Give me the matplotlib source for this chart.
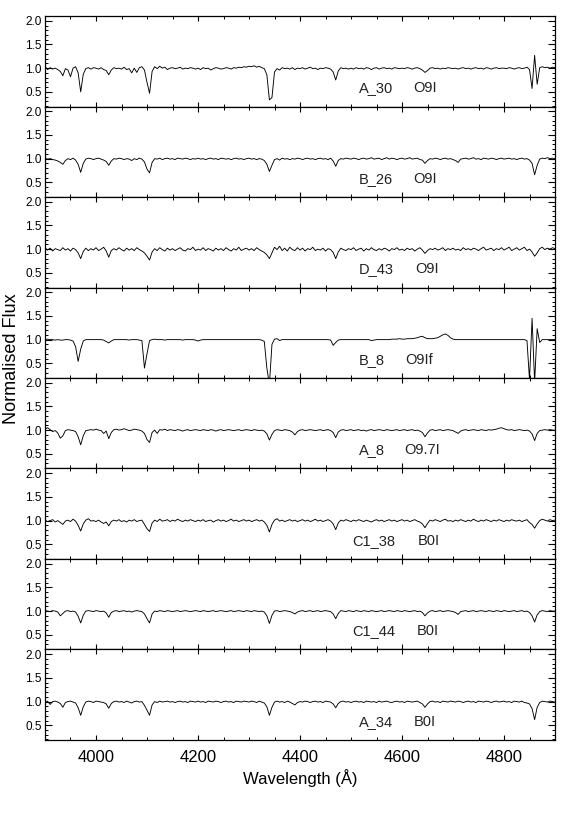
import numpy as np
import matplotlib
matplotlib.use("Agg")
import matplotlib.pyplot as plt
from matplotlib.ticker import MultipleLocator

plt.rcParams['font.family'] = ['Liberation Sans', 'DejaVu Sans']

# wavelength sampling (Angstrom), 5 A steps
wave = np.arange(3900, 4905, 5)

# normalised flux, in percent of continuum
a_30 = [104, 97, 101, 98, 100, 97, 93, 84, 99, 96, 82, 100, 103, 90, 50, 87, 99, 101, 98, 101,
        100, 98, 101, 97, 95, 86, 96, 101, 99, 100, 98, 102, 97, 99, 90, 100, 91, 101, 103, 96,
        70, 47, 93, 103, 99, 104, 100, 102, 97, 100, 101, 99, 100, 102, 98, 100, 99, 101, 100, 98,
        100, 97, 101, 99, 100, 96, 99, 101, 100, 98, 99, 101, 100, 98, 101, 100, 102, 101, 103, 102,
        104, 103, 105, 102, 104, 101, 99, 86, 33, 38, 92, 99, 96, 101, 99, 100, 98, 101, 97, 100,
        99, 101, 98, 100, 102, 99, 100, 97, 100, 99, 101, 100, 98, 92, 75, 94, 101, 99, 100, 98,
        100, 98, 101, 99, 100, 98, 101, 100, 97, 100, 101, 98, 100, 101, 99, 100, 98, 101, 100, 99,
        100, 99, 101, 100, 98, 100, 101, 99, 96, 91, 95, 100, 101, 99, 100, 98, 100, 99, 101, 100,
        99, 100, 98, 100, 101, 99, 100, 98, 100, 101, 99, 100, 98, 101, 100, 98, 100, 101, 99, 100,
        100, 99, 101, 100, 98, 100, 101, 99, 100, 102, 97, 57, 127, 66, 101, 103, 101, 102, 100, 102,
        101]

b_26 = [101, 99, 100, 98, 97, 95, 92, 88, 96, 100, 98, 101, 97, 88, 71, 90, 99, 101, 100, 98,
        100, 101, 99, 97, 94, 86, 95, 100, 99, 101, 100, 98, 100, 99, 96, 100, 98, 101, 99, 93,
        78, 70, 92, 100, 99, 101, 98, 100, 101, 99, 100, 98, 101, 100, 99, 101, 100, 98, 100, 99,
        101, 99, 100, 98, 100, 101, 99, 100, 98, 101, 100, 99, 100, 98, 100, 101, 99, 100, 98, 100,
        101, 99, 100, 98, 100, 99, 96, 88, 73, 86, 98, 100, 97, 101, 99, 100, 98, 100, 99, 101,
        100, 98, 100, 101, 99, 100, 98, 100, 101, 99, 100, 98, 101, 95, 84, 96, 100, 99, 101, 100,
        99, 101, 100, 98, 100, 101, 99, 100, 102, 99, 100, 101, 98, 100, 102, 99, 101, 100, 98, 100,
        101, 99, 100, 102, 99, 100, 101, 98, 97, 90, 96, 100, 99, 101, 100, 98, 100, 101, 99, 100,
        98, 96, 92, 99, 100, 101, 99, 100, 102, 99, 100, 98, 101, 100, 99, 101, 100, 98, 100, 101,
        99, 100, 101, 99, 100, 98, 100, 101, 99, 100, 97, 90, 66, 86, 99, 101, 100, 102, 100, 101,
        100]

d_43 = [103, 98, 102, 96, 101, 99, 97, 103, 98, 101, 96, 102, 99, 92, 80, 95, 102, 97, 101, 98,
        103, 97, 100, 104, 96, 83, 97, 101, 98, 103, 99, 96, 102, 98, 101, 97, 103, 99, 96, 92,
        85, 77, 94, 101, 97, 103, 99, 96, 102, 98, 101, 97, 100, 103, 98, 96, 101, 99, 104, 97,
        100, 98, 103, 97, 101, 99, 96, 102, 98, 101, 97, 103, 99, 96, 101, 98, 104, 97, 100, 102,
        98, 101, 97, 103, 99, 96, 93, 88, 80, 92, 104, 99, 106, 97, 102, 96, 104, 99, 97, 103,
        98, 102, 96, 101, 99, 104, 97, 100, 98, 102, 96, 101, 99, 93, 80, 94, 102, 99, 97, 101,
        99, 103, 97, 100, 102, 96, 101, 98, 103, 99, 97, 101, 98, 102, 100, 96, 101, 99, 103, 98,
        100, 97, 102, 99, 101, 96, 100, 103, 98, 91, 97, 101, 99, 102, 98, 100, 103, 97, 101, 99,
        102, 98, 100, 97, 103, 99, 101, 98, 102, 100, 97, 101, 104, 98, 100, 102, 97, 101, 99, 103,
        98, 101, 104, 97, 100, 103, 98, 101, 104, 97, 100, 94, 85, 92, 101, 104, 99, 102, 100, 103,
        101]

b_8 = [100, 101, 100, 100, 99, 100, 99, 99, 100, 100, 99, 97, 85, 54, 80, 97, 100, 100, 100, 100,
       100, 100, 100, 99, 96, 93, 97, 100, 100, 100, 100, 100, 100, 99, 100, 100, 100, 99, 98, 40,
       70, 98, 100, 101, 100, 100, 100, 99, 100, 100, 100, 100, 100, 100, 99, 100, 100, 100, 100, 99,
       97, 99, 100, 100, 100, 100, 100, 100, 100, 100, 100, 100, 100, 100, 100, 100, 100, 100, 100, 100,
       100, 100, 100, 100, 100, 99, 96, 40, 5, 90, 101, 102, 98, 100, 100, 100, 100, 100, 100, 100,
       100, 100, 100, 100, 100, 100, 100, 100, 100, 100, 100, 100, 99, 88, 94, 99, 100, 100, 100, 100,
       100, 100, 100, 100, 100, 100, 100, 100, 98, 99, 100, 100, 100, 100, 100, 100, 101, 101, 101, 102,
       101, 101, 102, 102, 102, 103, 104, 106, 107, 104, 102, 102, 102, 103, 104, 107, 110, 112, 109, 104,
       101, 100, 100, 100, 100, 100, 100, 100, 100, 100, 100, 100, 100, 100, 100, 100, 100, 100, 100, 100,
       100, 100, 100, 100, 100, 100, 100, 100, 100, 98, 15, 145, 10, 123, 94, 100, 100, 100, 100, 100,
       100]

a_8 = [102, 105, 101, 97, 99, 94, 83, 88, 99, 101, 100, 99, 97, 86, 69, 88, 99, 100, 101, 100,
       102, 100, 99, 93, 98, 82, 95, 101, 102, 100, 101, 103, 101, 99, 100, 102, 101, 100, 98, 93,
       80, 74, 95, 100, 93, 101, 100, 102, 99, 101, 100, 99, 101, 100, 98, 100, 101, 99, 100, 101,
       100, 99, 101, 100, 99, 101, 100, 98, 100, 101, 99, 100, 101, 100, 99, 100, 101, 99, 100, 101,
       100, 99, 101, 100, 99, 100, 98, 92, 79, 91, 99, 101, 100, 99, 101, 100, 99, 96, 90, 97,
       100, 101, 99, 100, 101, 100, 99, 100, 101, 99, 100, 101, 99, 95, 84, 96, 100, 101, 99, 100,
       101, 99, 100, 101, 99, 100, 98, 100, 101, 99, 100, 101, 100, 99, 101, 100, 99, 100, 101, 99,
       100, 101, 99, 100, 101, 99, 100, 98, 95, 86, 94, 100, 101, 99, 100, 101, 99, 100, 101, 100,
       99, 96, 93, 98, 100, 101, 99, 100, 101, 100, 99, 101, 100, 99, 101, 100, 101, 102, 104, 105,
       103, 101, 100, 101, 99, 100, 101, 100, 99, 100, 98, 92, 78, 93, 99, 100, 101, 100, 101, 100,
       100]

c1_38 = [101, 98, 100, 102, 97, 100, 96, 92, 99, 101, 98, 103, 99, 90, 78, 93, 101, 104, 99, 100,
         98, 101, 97, 94, 97, 89, 98, 101, 99, 102, 98, 100, 97, 101, 99, 102, 98, 100, 101, 92,
         83, 77, 95, 101, 98, 103, 99, 100, 102, 98, 101, 99, 103, 100, 98, 101, 99, 102, 100, 98,
         101, 99, 102, 98, 100, 101, 97, 100, 102, 99, 101, 98, 100, 103, 99, 101, 98, 100, 102, 99,
         101, 98, 100, 102, 99, 101, 97, 90, 76, 92, 101, 104, 99, 101, 98, 100, 102, 99, 101, 98,
         100, 102, 99, 101, 98, 100, 103, 99, 101, 98, 100, 102, 99, 93, 81, 95, 101, 99, 102, 100,
         98, 101, 99, 102, 100, 98, 101, 99, 97, 100, 102, 99, 101, 98, 100, 102, 99, 101, 98, 100,
         102, 99, 101, 98, 100, 102, 99, 97, 93, 85, 94, 101, 99, 102, 100, 98, 101, 103, 99, 100,
         98, 101, 99, 102, 100, 98, 101, 99, 103, 100, 98, 101, 99, 102, 100, 98, 101, 99, 102, 100,
         98, 101, 99, 102, 100, 99, 101, 98, 100, 102, 96, 92, 84, 93, 100, 103, 101, 99, 102, 100,
         101]

c1_44 = [101, 100, 99, 101, 100, 98, 90, 95, 100, 101, 99, 100, 98, 89, 75, 91, 100, 101, 100, 99,
         101, 100, 99, 100, 96, 87, 97, 100, 101, 99, 100, 101, 99, 100, 98, 100, 101, 100, 99, 94,
         84, 75, 94, 100, 99, 101, 100, 99, 101, 100, 99, 100, 101, 99, 100, 101, 100, 99, 100, 101,
         100, 99, 101, 100, 99, 100, 101, 99, 100, 101, 100, 99, 100, 101, 99, 100, 101, 100, 99, 101,
         100, 99, 101, 100, 99, 100, 98, 90, 74, 91, 100, 101, 99, 100, 101, 100, 99, 97, 94, 98,
         100, 101, 99, 100, 101, 99, 100, 101, 99, 100, 101, 100, 99, 94, 84, 95, 101, 100, 99, 101,
         100, 99, 101, 100, 99, 101, 100, 99, 101, 100, 99, 100, 101, 99, 100, 101, 100, 99, 101, 100,
         99, 101, 100, 99, 100, 101, 99, 100, 97, 90, 96, 100, 101, 99, 100, 101, 99, 100, 101, 100,
         99, 97, 93, 99, 100, 101, 99, 100, 101, 99, 100, 101, 100, 99, 101, 100, 99, 101, 100, 99,
         101, 100, 99, 100, 101, 99, 100, 101, 99, 100, 97, 90, 77, 92, 99, 101, 100, 99, 101, 100,
         100]

a_34 = [98, 101, 94, 100, 101, 99, 96, 88, 98, 100, 101, 99, 97, 87, 71, 89, 99, 101, 100, 98,
        101, 100, 99, 98, 95, 86, 96, 100, 101, 99, 100, 98, 101, 99, 97, 100, 101, 99, 100, 92,
        82, 71, 93, 100, 98, 101, 99, 100, 101, 99, 100, 98, 100, 101, 99, 100, 98, 101, 100, 99,
        101, 99, 100, 98, 101, 100, 99, 101, 100, 98, 100, 101, 99, 100, 98, 101, 100, 99, 101, 100,
        99, 101, 100, 98, 101, 99, 97, 89, 71, 88, 99, 101, 99, 100, 98, 101, 99, 96, 93, 98,
        100, 99, 101, 100, 98, 100, 101, 99, 100, 98, 101, 100, 99, 95, 87, 96, 100, 101, 99, 100,
        98, 100, 101, 99, 100, 98, 101, 100, 99, 100, 98, 101, 99, 100, 101, 99, 98, 100, 101, 99,
        100, 98, 101, 100, 99, 100, 101, 98, 95, 88, 95, 100, 101, 99, 100, 98, 101, 100, 99, 101,
        100, 99, 101, 100, 98, 100, 101, 99, 100, 98, 101, 100, 99, 101, 100, 98, 100, 101, 99, 100,
        101, 99, 100, 98, 101, 100, 99, 101, 98, 97, 95, 85, 62, 88, 98, 101, 100, 99, 101, 100,
        99]

names = ['A_30', 'B_26', 'D_43', 'B_8', 'A_8', 'C1_38', 'C1_44', 'A_34']
sptypes = ['O9I', 'O9I', 'O9I', 'O9If', 'O9.7I', 'B0I', 'B0I', 'B0I']
spectra = [a_30, b_26, d_43, b_8, a_8, c1_38, c1_44, a_34]

# where the labels sit (wavelength of left edge of text)
name_x = [4515, 4515, 4515, 4515, 4515, 4503, 4503, 4515]
type_x = [4623, 4623, 4625, 4607, 4604, 4630, 4628, 4623]


def main():
    fig, axes = plt.subplots(8, 1, sharex=True, figsize=(5.66, 8.22), dpi=100)
    fig.subplots_adjust(left=0.0795, right=0.9806, top=0.9805, bottom=0.0998, hspace=0)

    for i, ax in enumerate(axes):
        flux = np.array(spectra[i]) / 100.0
        ax.plot(wave, flux, color='black', lw=0.65)
        ax.set_xlim(3900, 4900)
        ax.set_ylim(0.19, 2.1)
        ax.set_yticks([0.5, 1.0, 1.5, 2.0])
        ax.set_yticklabels(['0.5', '1.0', '1.5', '2.0'])
        ax.yaxis.set_minor_locator(MultipleLocator(0.1))
        ax.xaxis.set_major_locator(MultipleLocator(200))
        ax.xaxis.set_minor_locator(MultipleLocator(50))
        ax.tick_params(axis='both', which='both', direction='in', top=True, right=True)
        ax.tick_params(axis='y', which='major', length=4.7, width=0.8, labelsize=8.5, pad=2.5)
        ax.tick_params(axis='y', which='minor', length=2.4, width=0.7)
        ax.tick_params(axis='x', which='major', length=3.8, width=0.8, labelsize=12, pad=7)
        ax.tick_params(axis='x', which='minor', length=2.0, width=0.7)
        for s in ax.spines.values():
            s.set_linewidth(0.9)
        ax.text(name_x[i], 0.49, names[i], fontsize=10.5, va='baseline', color='#222222')
        ax.text(type_x[i], 0.49, sptypes[i], fontsize=10.5, va='baseline', color='#222222')

    fig.text(0.53, 0.0462, 'Wavelength (Å)', ha='center', va='baseline', fontsize=12)
    fig.text(0.021, 0.5633, 'Normalised Flux', ha='center', va='center', rotation=90, fontsize=13)

    fig.savefig('out.png', dpi=100)


if __name__ == "__main__":
    main()
